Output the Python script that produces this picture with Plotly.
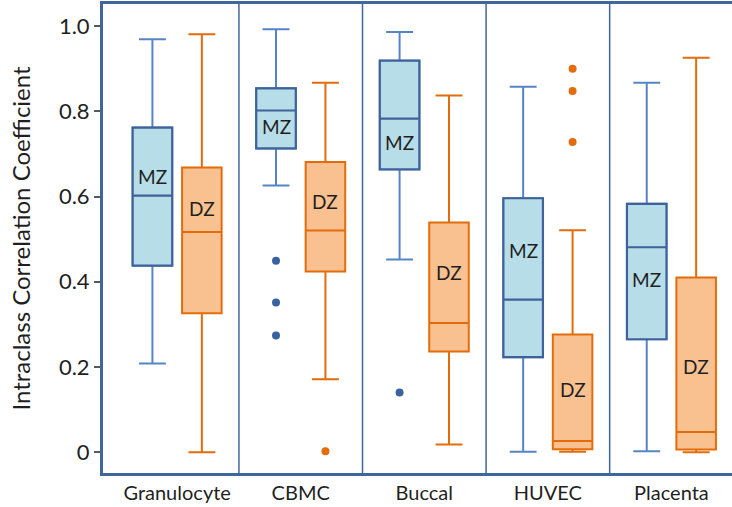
import plotly.graph_objects as go

categories = ["Granulocyte", "CBMC", "Buccal", "HUVEC", "Placenta"]

# MZ box statistics
mz_lower = [0.208, 0.626, 0.452, 0.001, 0.002]
mz_q1 = [0.438, 0.713, 0.664, 0.223, 0.265]
mz_median = [0.602, 0.802, 0.783, 0.358, 0.481]
mz_q3 = [0.762, 0.854, 0.919, 0.596, 0.583]
mz_upper = [0.969, 0.993, 0.986, 0.858, 0.867]

# DZ box statistics
dz_lower = [0.000, 0.171, 0.018, 0.001, 0.000]
dz_q1 = [0.326, 0.424, 0.236, 0.007, 0.006]
dz_median = [0.517, 0.520, 0.303, 0.026, 0.047]
dz_q3 = [0.668, 0.681, 0.539, 0.276, 0.410]
dz_upper = [0.981, 0.867, 0.837, 0.521, 0.926]

# outliers: (category index, value)
mz_out_cat = [1, 1, 1, 2]
mz_out_val = [0.449, 0.351, 0.274, 0.140]
dz_out_cat = [1, 3, 3, 3]
dz_out_val = [0.002, 0.900, 0.848, 0.728]

# label heights inside the boxes
mz_label_y = [0.646, 0.764, 0.726, 0.474, 0.405]
dz_label_y = [0.573, 0.588, 0.421, 0.146, 0.200]

y_tickvals = [0, 0.2, 0.4, 0.6, 0.8, 1.0]
y_ticktext = ["0", "0.2", "0.4", "0.6", "0.8", "1.0"]

OFF = 0.2
idx = list(range(len(categories)))
mz_x = [i - OFF for i in idx]
dz_x = [i + OFF for i in idx]

FRAME = "#41669B"
MZ_WHISK = "#5585C5"
MZ_LINE = "#3E6299"
MZ_FILL = "#B7DEE8"
DZ_LINE = "#E46C0A"
DZ_FILL = "#F9C190"
FONT = "Lato"
TXT = "#1f1f1f"

fig = go.Figure()
# MZ whiskers (lighter blue)
fig.add_trace(go.Box(
    x=mz_x, q1=mz_q1, median=mz_median, q3=mz_q3,
    lowerfence=mz_lower, upperfence=mz_upper,
    width=0.32, whiskerwidth=0.68,
    line=dict(color=MZ_WHISK, width=2), fillcolor=MZ_FILL,
    name="MZ", showlegend=False, hoverinfo="skip",
))
# MZ box body (darker border)
fig.add_trace(go.Box(
    x=mz_x, q1=mz_q1, median=mz_median, q3=mz_q3,
    lowerfence=mz_q1, upperfence=mz_q3,
    width=0.32, whiskerwidth=0,
    line=dict(color=MZ_LINE, width=2.2), fillcolor=MZ_FILL,
    name="MZ", showlegend=False, hoverinfo="skip",
))
fig.add_trace(go.Box(
    x=dz_x, q1=dz_q1, median=dz_median, q3=dz_q3,
    lowerfence=dz_lower, upperfence=dz_upper,
    width=0.32, whiskerwidth=0.68,
    line=dict(color=DZ_LINE, width=2), fillcolor=DZ_FILL,
    name="DZ", showlegend=False, hoverinfo="skip",
))
fig.add_trace(go.Scatter(
    x=[c - OFF for c in mz_out_cat], y=mz_out_val, mode="markers",
    marker=dict(color="#3B62A0", size=8), showlegend=False, hoverinfo="skip",
))
fig.add_trace(go.Scatter(
    x=[c + OFF for c in dz_out_cat], y=dz_out_val, mode="markers",
    marker=dict(color=DZ_LINE, size=8), showlegend=False, hoverinfo="skip",
))

annotations = []
for i in idx:
    annotations.append(dict(x=mz_x[i], y=mz_label_y[i], xref="x", yref="y",
                            text="MZ", showarrow=False,
                            font=dict(family=FONT, size=19, color=TXT)))
    annotations.append(dict(x=dz_x[i], y=dz_label_y[i], xref="x", yref="y",
                            text="DZ", showarrow=False,
                            font=dict(family=FONT, size=19, color=TXT)))

shapes = []
for i in idx[:-1]:
    shapes.append(dict(type="line", xref="x", yref="paper",
                       x0=i + 0.5, x1=i + 0.5, y0=0, y1=1,
                       line=dict(color=FRAME, width=1.5)))

fig.update_layout(
    width=732, height=507,
    margin=dict(l=103, r=0, t=4, b=34),
    plot_bgcolor="white", paper_bgcolor="white",
    font=dict(family=FONT, color=TXT),
    annotations=annotations, shapes=shapes,
    showlegend=False,
)
fig.update_xaxes(
    range=[-0.6, 4.49], tickvals=idx, ticktext=categories,
    showgrid=False, zeroline=False, ticks="",
    showline=True, linecolor=FRAME, linewidth=3, mirror=True,
    tickfont=dict(family=FONT, size=20, color=TXT),
)
fig.update_yaxes(
    range=[-0.049, 1.052], tickvals=y_tickvals, ticktext=y_ticktext,
    showgrid=False, zeroline=False,
    ticks="outside", ticklen=6, tickwidth=1.5, tickcolor="#595959",
    showline=True, linecolor=FRAME, linewidth=3,
    tickfont=dict(family=FONT, size=22, color=TXT),
    title=dict(text="Intraclass Correlation Coefficient", standoff=22,
               font=dict(family=FONT, size=24, color=TXT)),
)

fig.write_html("out.html",
               config={"displayModeBar": False},
               post_script="document.body.style.margin='0';document.body.style.overflow='hidden';")
